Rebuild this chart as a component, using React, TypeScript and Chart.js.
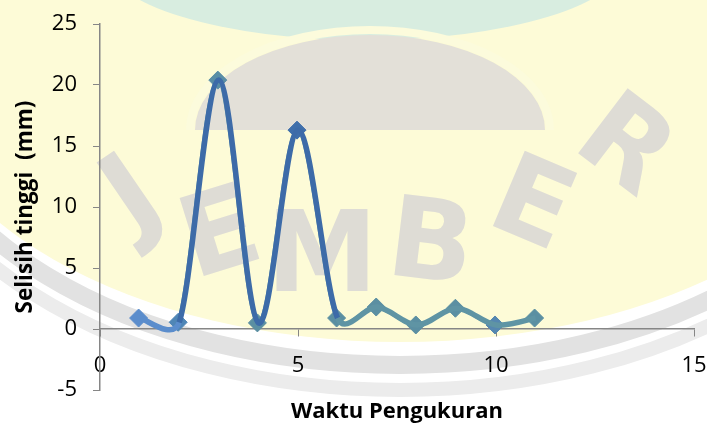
import React, { useEffect, useRef } from 'react';
import { Chart, registerables } from 'chart.js';

Chart.register(...registerables);

// ---- data ----
const xValues = [1, 2, 3, 4, 5, 6, 7, 8, 9, 10, 11];
const yValues = [0.9, 0.55, 20.4, 0.5, 16.3, 0.9, 1.8, 0.33, 1.7, 0.33, 0.9];
const xTickValues = [0, 5, 10, 15];
const yTickValues = [-5, 0, 5, 10, 15, 20, 25];
const xTitle = 'Waktu Pengukuran';
const yTitle = 'Selisih tinggi  (mm)';
const watermarkLetters = ['J', 'E', 'M', 'B', 'E', 'R'];

// ---- styles ----
const FONT = '"Open Sans", Lato, sans-serif';
const DARK = '#3d6ba8';
const TEAL = '#5f94a4';
const LIGHT = '#5b8dcc';
const pointColors = ['#5b8dcc', '#4f86b6', '#5a8ea6', '#5b8fa2', '#3f6fab', '#5b8fa2', '#5b8fa2', '#5b8fa2', '#5b8fa2', '#5587b0', '#5b8fa2'];
const letterPlaces = [
  [135, 200, -0.6],
  [222, 240, -0.3],
  [322, 262, 0],
  [430, 250, 0.12],
  [530, 210, 0.4],
  [622, 150, 0.65],
];

const watermarkPlugin = {
  id: 'watermark',
  beforeDraw(chart: any) {
    const ctx = chart.ctx as CanvasRenderingContext2D;
    const w = chart.width;
    const h = chart.height;
    ctx.save();
    ctx.fillStyle = '#ffffff';
    ctx.fillRect(0, 0, w, h);
    ctx.strokeStyle = '#e2e2e2';
    ctx.lineWidth = 18;
    ctx.beginPath();
    ctx.ellipse(400, 60, 500, 305, 0, 0, Math.PI * 2);
    ctx.stroke();
    ctx.strokeStyle = '#ececec';
    ctx.lineWidth = 14;
    ctx.beginPath();
    ctx.ellipse(400, 60, 520, 330, 0, 0, Math.PI * 2);
    ctx.stroke();
    ctx.fillStyle = '#fdfbd7';
    ctx.beginPath();
    ctx.ellipse(400, 60, 490, 282, 0, 0, Math.PI * 2);
    ctx.fill();
    ctx.fillStyle = '#d8ede0';
    ctx.beginPath();
    ctx.ellipse(365, -40, 260, 80, 0, 0, Math.PI * 2);
    ctx.fill();
    ctx.fillStyle = '#e3e0d8';
    ctx.beginPath();
    ctx.ellipse(370, 130, 175, 95, 0, Math.PI, Math.PI * 2);
    ctx.fill();
    ctx.strokeStyle = '#fcfbdc';
    ctx.lineWidth = 8;
    ctx.beginPath();
    ctx.ellipse(370, 130, 180, 100, 0, Math.PI, Math.PI * 2);
    ctx.stroke();
    ctx.fillStyle = '#dedcd5';
    ctx.font = 'bold 112px "DejaVu Sans", sans-serif';
    ctx.textAlign = 'center';
    ctx.textBaseline = 'middle';
    watermarkLetters.forEach((ch, i) => {
      const p = letterPlaces[i];
      ctx.save();
      ctx.translate(p[0], p[1]);
      ctx.rotate(p[2]);
      ctx.fillText(ch, 0, 0);
      ctx.restore();
    });
    ctx.restore();
  },
};

// Excel-like smoothing: Catmull-Rom tangents (1/6), capped at half the adjacent segment
const smoothPlugin = {
  id: 'excelSmooth',
  beforeDatasetsDraw(chart: any) {
    chart.data.datasets.forEach((_: any, di: number) => {
      const meta = chart.getDatasetMeta(di);
      const line = meta.dataset;
      if (!line) return;
      line.updateControlPoints(chart.chartArea, 'x');
      const pts = meta.data;
      const n = pts.length;
      for (let i = 0; i < n; i++) {
        const p = pts[i];
        const prev = pts[Math.max(0, i - 1)];
        const next = pts[Math.min(n - 1, i + 1)];
        const vx = (next.x - prev.x) / 6;
        const vy = (next.y - prev.y) / 6;
        const vl = Math.hypot(vx, vy) || 1;
        const dPrev = Math.hypot(p.x - prev.x, p.y - prev.y);
        const dNext = Math.hypot(next.x - p.x, next.y - p.y);
        const sPrev = Math.min(1, (0.5 * dPrev) / vl);
        const sNext = Math.min(1, (0.5 * dNext) / vl);
        p.cp1x = p.x - vx * sPrev;
        p.cp1y = p.y - vy * sPrev;
        p.cp2x = p.x + vx * sNext;
        p.cp2y = p.y + vy * sNext;
      }
      delete line._path;
    });
  },
};

const shiftPlugin = {
  id: 'shiftTop',
  beforeDatasetDraw(chart: any, args: any) {
    if (args.index === 1) {
      chart.ctx.save();
      chart.ctx.translate(-1, 0);
    }
  },
  afterDatasetDraw(chart: any, args: any) {
    if (args.index === 1) chart.ctx.restore();
  },
};

const xTitlePlugin = {
  id: 'xTitle',
  afterDraw(chart: any) {
    const ctx = chart.ctx as CanvasRenderingContext2D;
    const area = chart.chartArea;
    ctx.save();
    ctx.fillStyle = '#000';
    ctx.font = `bold 22px ${FONT}`;
    ctx.textAlign = 'center';
    ctx.textBaseline = 'middle';
    ctx.fillText(xTitle, (area.left + area.right) / 2, area.bottom + 22);
    ctx.restore();
  },
};

export default function App() {
  const ref = useRef<HTMLCanvasElement | null>(null);
  useEffect(() => {
    if (!ref.current) return;
    const points = xValues.map((x, i) => ({ x, y: yValues[i] }));
    const chart = new Chart(ref.current, {
      type: 'scatter',
      data: {
        datasets: [
          {
            data: points,
            showLine: true,
            tension: 0.4,
            borderColor: DARK,
            borderWidth: 5.5,
            segment: {
              borderColor: (c: any) =>
                c.p0DataIndex === 0 ? LIGHT : Math.abs(c.p1.parsed.y - c.p0.parsed.y) > 5 ? DARK : TEAL,
            },
            pointRadius: 0,
            pointHoverRadius: 0,
          },
          {
            data: points,
            showLine: true,
            tension: 0.4,
            borderColor: TEAL,
            borderWidth: 3.5,
            segment: {
              borderColor: (c: any) => (c.p0DataIndex === 0 ? LIGHT : undefined),
            },
            pointStyle: 'rectRot',
            pointRadius: 9,
            pointBackgroundColor: pointColors,
            pointBorderColor: pointColors,
            pointBorderWidth: 1,
          },
        ],
      },
      options: {
        animation: false,
        responsive: false,
        layout: { padding: { top: 24, right: 13, left: 0, bottom: 33 } },
        plugins: {
          legend: { display: false },
          tooltip: { enabled: false },
          title: { display: false },
        },
        scales: {
          x: {
            type: 'linear',
            min: 0,
            max: 15,
            position: { y: 0 } as any,
            afterFit: (s: any) => {
              s.paddingLeft = 0;
              s.paddingRight = 0;
            },
            afterBuildTicks: (s: any) => {
              s.ticks = xTickValues.map((v) => ({ value: v }));
            },
            ticks: { color: '#000', font: { family: FONT, size: 22 }, padding: 17 },
            grid: { drawOnChartArea: false, drawTicks: true, tickLength: 7, color: '#868686', lineWidth: 1 },
            border: { color: '#868686', width: 1.5 },
          },
          y: {
            type: 'linear',
            min: -5,
            max: 25,
            afterFit: (s: any) => {
              s.width = 100;
              s.paddingTop = 0;
              s.paddingBottom = 0;
            },
            afterBuildTicks: (s: any) => {
              s.ticks = yTickValues.map((v) => ({ value: v }));
            },
            ticks: { color: '#000', font: { family: FONT, size: 22 }, padding: 16 },
            grid: { drawOnChartArea: false, drawTicks: true, tickLength: 7, color: '#868686', lineWidth: 1 },
            border: { color: '#868686', width: 1.5 },
            title: {
              display: true,
              text: yTitle,
              color: '#000',
              font: { family: FONT, size: 22.5, weight: 'bold' },
              padding: { top: 12, bottom: 0 },
            },
          },
        },
      },
      plugins: [watermarkPlugin, smoothPlugin, shiftPlugin, xTitlePlugin],
    });
    return () => chart.destroy();
  }, []);
  return (
    <canvas
      ref={ref}
      width={707}
      height={423}
      style={{ position: 'absolute', left: 0, top: 0, width: 707, height: 423 }}
    />
  );
}
